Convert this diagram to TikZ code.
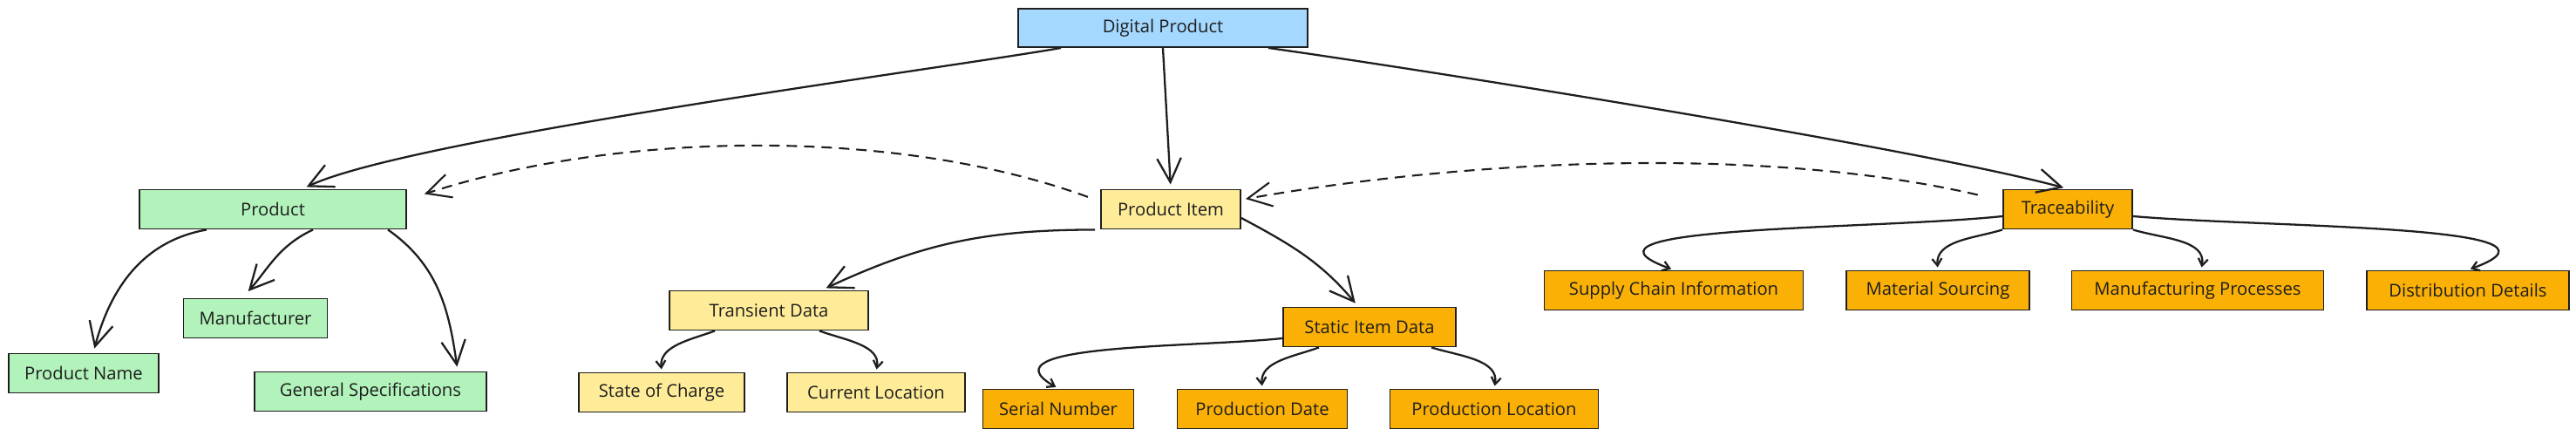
\documentclass[tikz,border=0pt]{standalone}
\usepackage{fontspec}
\setmainfont{Open Sans}
\usetikzlibrary{arrows.meta}

\definecolor{inkline}{HTML}{1E1E1E}
\definecolor{boxblue}{HTML}{A5D8FF}
\definecolor{boxgreen}{HTML}{B2F2BB}
\definecolor{boxyellow}{HTML}{FFEC99}
\definecolor{boxorange}{HTML}{FAB005}

\begin{document}
\begin{tikzpicture}[x=2cm, y=-2cm,
    box/.style={draw=inkline, line width=1.1pt, minimum height=0.9cm, inner sep=0pt,
      text=inkline, font=\fontsize{11.5}{13}\selectfont},
    bigarrow/.style={draw=inkline, line width=1.3pt, shorten >=0.1cm,
      -{Straight Barb[length=0.55cm, width=0.55cm]}},
    smallarrow/.style={draw=inkline, line width=1.3pt, shorten >=0.06cm,
      -{Straight Barb[length=0.16cm, width=0.22cm]}},
    dasharrow/.style={bigarrow, line width=1.2pt, dash pattern=on 0.24cm off 0.16cm}]
      \useasboundingbox (0,0) rectangle (29.55,5.00);

      % Top node
      \node[box, fill=boxblue, minimum width=6.64cm, minimum height=0.88cm] (dp) at (13.34,0.32) {Digital Product};

      % Product and its parts
      \node[box, fill=boxgreen, minimum width=6.12cm] (prod) at (3.13,2.40) {Product};
      \node[box, fill=boxgreen, minimum width=3.30cm] (mfr) at (2.93,3.65) {Manufacturer};
      \node[box, fill=boxgreen, minimum width=3.44cm] (pname) at (0.96,4.28) {Product Name};
      \node[box, fill=boxgreen, minimum width=5.32cm] (gspec) at (4.25,4.49) {General Specifications};

      % Product item and its data
      \node[box, fill=boxyellow, minimum width=3.20cm] (pitem) at (13.43,2.40) {Product Item};
      \node[box, fill=boxyellow, minimum width=4.56cm] (trans) at (8.82,3.56) {Transient Data};
      \node[box, fill=boxyellow, minimum width=3.80cm] (soc) at (7.59,4.50) {State of Charge};
      \node[box, fill=boxyellow, minimum width=4.08cm] (cloc) at (10.05,4.50) {Current Location};
      \node[box, fill=boxorange, minimum width=3.96cm] (sid) at (15.71,3.75) {Static Item Data};
      \node[box, fill=boxorange, minimum width=3.46cm] (sn) at (12.14,4.69) {Serial Number};
      \node[box, fill=boxorange, minimum width=3.90cm] (pdate) at (14.48,4.69) {Production Date};
      \node[box, fill=boxorange, minimum width=4.78cm] (ploc) at (17.14,4.69) {Production Location};

      % Traceability
      \node[box, fill=boxorange, minimum width=2.96cm] (trace) at (23.72,2.40) {Traceability};
      \node[box, fill=boxorange, minimum width=5.94cm] (sci) at (19.20,3.33) {Supply Chain Information};
      \node[box, fill=boxorange, minimum width=4.20cm] (msrc) at (22.23,3.33) {Material Sourcing};
      \node[box, fill=boxorange, minimum width=5.78cm] (mproc) at (25.21,3.33) {Manufacturing Processes};
      \node[box, fill=boxorange, minimum width=4.64cm] (ddet) at (28.31,3.33) {Distribution Details};

      % Arrows from the top
      \draw[bigarrow] ([xshift=-2.34cm]dp.south) to[out=190, in=25, looseness=0.4] ([xshift=0.68cm]prod.north);
      \draw[bigarrow] (dp.south) -- (pitem.north);
      \draw[bigarrow] ([xshift=2.42cm]dp.south) to[out=-8, in=165, looseness=0.5] (trace.north);

      % Arrows below product
      \draw[bigarrow] ([xshift=-1.52cm]prod.south) to[out=190, in=75] ([xshift=0.22cm]pname.north);
      \draw[bigarrow, shorten >=0.2cm] ([xshift=0.92cm]prod.south) to[out=205, in=48] ([xshift=-0.3cm]mfr.north);
      \draw[bigarrow] ([xshift=2.64cm]prod.south) to[out=-35, in=98] ([xshift=2cm]gspec.north);

      % Arrows below product item
      \draw[bigarrow] ([xshift=-1.74cm]pitem.south) to[out=180, in=25] ([xshift=1.22cm]trans.north);
      \draw[bigarrow] ([yshift=-0.2cm]pitem.east) to[out=-28, in=130] ([xshift=-0.26cm]sid.north);
      \draw[smallarrow] ([xshift=-1.24cm]trans.south) to[out=200, in=95] (soc.north);
      \draw[smallarrow] ([xshift=1.16cm]trans.south) to[out=-20, in=80] (cloc.north);
      \draw[smallarrow] ([yshift=-0.26cm]sid.west) to[out=186, in=150] (sn.north);
      \draw[smallarrow] ([xshift=-1.16cm]sid.south) to[out=200, in=95] (pdate.north);
      \draw[smallarrow] ([xshift=1.42cm]sid.south) to[out=-17, in=80] (ploc.north);

      % Arrows below traceability
      \draw[smallarrow] ([yshift=-0.16cm]trace.west) to[out=186, in=160] (sci.north);
      \draw[smallarrow] (trace.south west) to[out=197, in=95] (msrc.north);
      \draw[smallarrow] (trace.south east) to[out=-17, in=80] ([xshift=0.08cm]mproc.north);
      \draw[smallarrow] ([yshift=-0.16cm]trace.east) to[out=-5, in=20] (ddet.north);

      % Dashed links
      \draw[dasharrow, shorten <=0.3cm, shorten >=0.42cm] ([yshift=0.18cm]pitem.west) to[out=160, in=18, looseness=0.81] ([yshift=0.22cm]prod.east);
      \draw[dasharrow, shorten <=0.58cm, shorten >=0.1cm] ([yshift=0.2cm]trace.west) to[out=167, in=10, looseness=0.81] ([yshift=0.22cm]pitem.east);
    \end{tikzpicture}
\end{document}
